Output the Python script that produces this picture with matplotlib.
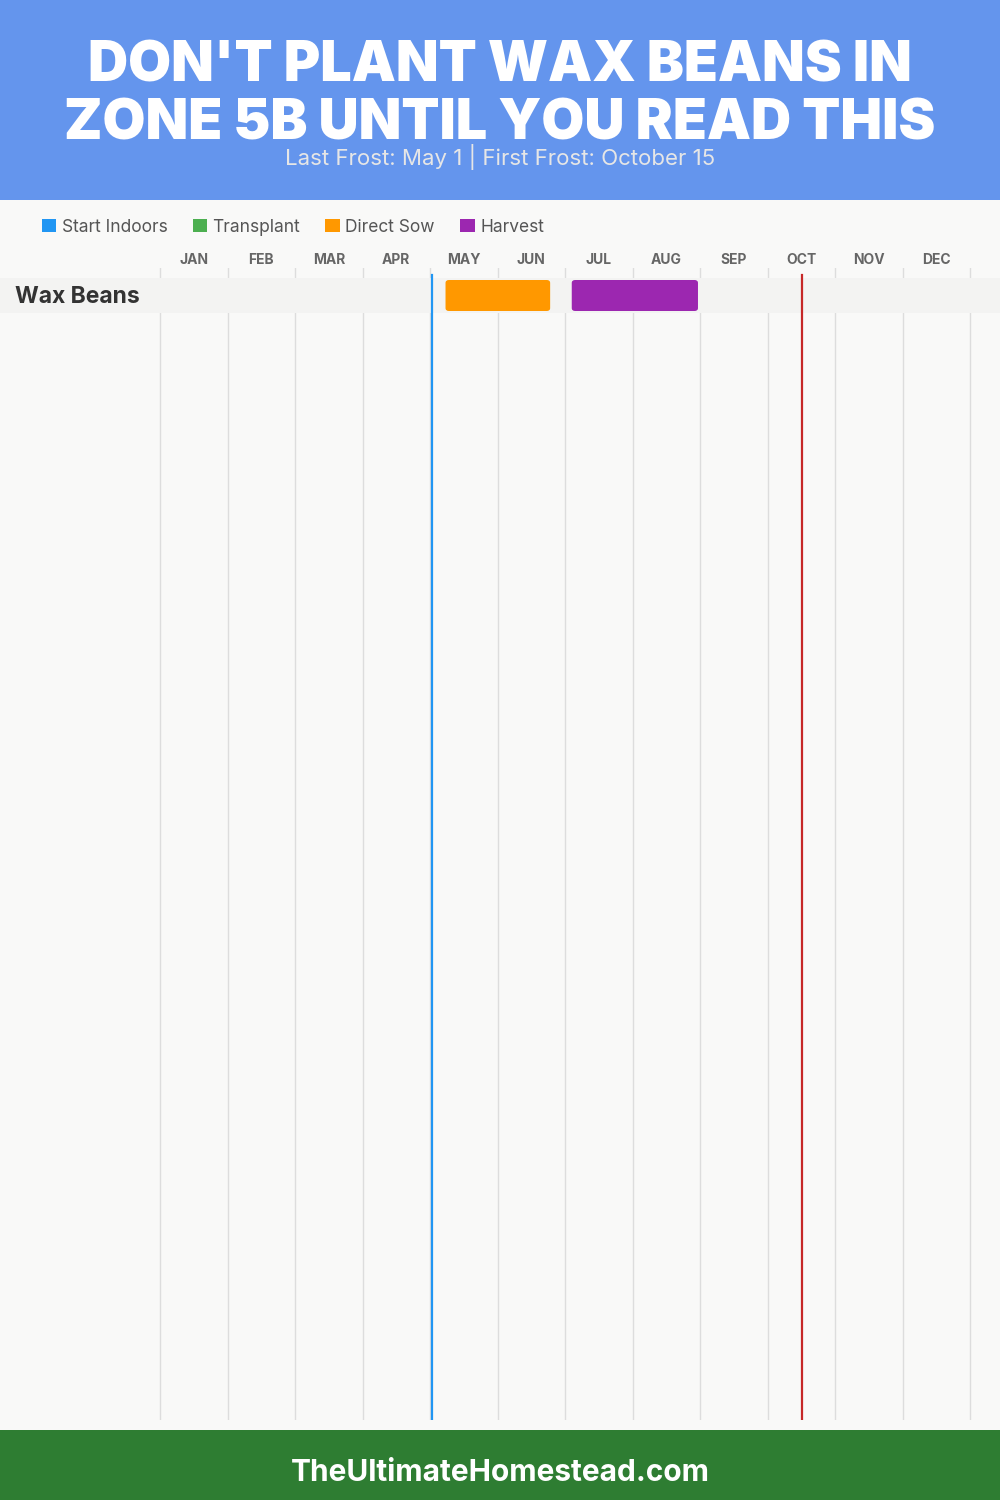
import matplotlib
matplotlib.use("Agg")
import matplotlib.pyplot as plt
from matplotlib.patches import Rectangle, FancyBboxPatch, Patch

# ---- data ----
title_lines = ["DON'T PLANT WAX BEANS IN", "ZONE 5B UNTIL YOU READ THIS"]
subtitle = "Last Frost: May 1 | First Frost: October 15"
footer = "TheUltimateHomestead.com"
months = ["JAN", "FEB", "MAR", "APR", "MAY", "JUN", "JUL", "AUG", "SEP", "OCT", "NOV", "DEC"]
crops = ["Wax Beans"]
legend_labels = ["Start Indoors", "Transplant", "Direct Sow", "Harvest"]
legend_colors = ["#2196F3", "#4CAF50", "#FF9800", "#9C27B0"]
# activity bars: (crop index, start month, end month, activity)
bar_crop = [0, 0]
bar_start = [4.23, 6.10]
bar_end = [5.78, 7.97]
bar_kind = ["Direct Sow", "Harvest"]
last_frost = 4.03   # May 1
first_frost = 9.51  # Oct 15

FONT = ["Inter", "DejaVu Sans"]
plt.rcParams["font.family"] = FONT

W, H = 1000, 1500
fig = plt.figure(figsize=(10, 15), dpi=100)
fig.patch.set_facecolor("#F9F9F8")

def fx(px):
    return px / W

def fy(py):
    return 1 - py / H

# header & footer bands
fig.add_artist(Rectangle((0, fy(200)), 1, 200 / H, transform=fig.transFigure,
                         facecolor="#6495ED", edgecolor="none", zorder=0))
fig.add_artist(Rectangle((0, 0), 1, 70 / H, transform=fig.transFigure,
                         facecolor="#2E7D32", edgecolor="none", zorder=0))

fig.text(0.5, fy(66), title_lines[0], ha="center", va="center", color="white",
         fontsize=40, fontweight=900)
fig.text(0.5, fy(125), title_lines[1], ha="center", va="center", color="white",
         fontsize=40, fontweight=900)
fig.text(0.5, fy(157), subtitle, ha="center", va="center", color="#E6E6E6",
         fontsize=16)
fig.text(0.5, fy(1473), footer, ha="center", va="center", color="white",
         fontsize=21.5, fontweight="bold")

# legend
handles = [Patch(facecolor=c, edgecolor="none", label=l)
           for c, l in zip(legend_colors, legend_labels)]
fig.legend(handles=handles, loc="center left", bbox_to_anchor=(fx(26), fy(227)),
           ncol=4, frameon=False, fontsize=12.5, handlelength=0.85, handleheight=0.85,
           handletextpad=0.3, columnspacing=1.45, labelcolor="#555555")

# main axes: x in months, y in rows
x0_px, month_px = 160, 67.5
top_px, bot_px, row_top_px, row_h = 268, 1420, 278, 35
ax = fig.add_axes([0, fy(bot_px), 1, (bot_px - top_px) / H])
ax.set_facecolor("none")
ax.set_xlim(-x0_px / month_px, (W - x0_px) / month_px)
y_top = -0.5 - (row_top_px - top_px) / row_h
y_bot = -0.5 + (bot_px - row_top_px) / row_h
ax.set_ylim(y_bot, y_top)
ax.axis("off")

for m in range(len(months) + 1):
    ax.axvline(m, color="#DDDDDD", lw=1, zorder=1)
for i, name in enumerate(months):
    fig.text(fx(x0_px + (i + 0.5) * month_px), fy(260), name, ha="center", va="center",
             color="#666666", fontsize=10, fontweight="bold")

for r, crop in enumerate(crops):
    ax.add_patch(Rectangle((ax.get_xlim()[0], r - 0.5), ax.get_xlim()[1] - ax.get_xlim()[0], 1,
                           facecolor="#F3F3F2", edgecolor="none", zorder=2))
    ax.text(15 / month_px + ax.get_xlim()[0], r + 0.03, crop, ha="left", va="center",
            color="#333333", fontsize=16.5, fontweight="bold", zorder=5)

color_of = dict(zip(legend_labels, legend_colors))
bh = 31 / 35
for c, s, e, k in zip(bar_crop, bar_start, bar_end, bar_kind):
    rs = 0.05
    ax.add_patch(FancyBboxPatch((s, c - bh / 2), e - s, bh,
                                boxstyle=f"round,pad=0,rounding_size={rs}",
                                mutation_aspect=1.7,
                                facecolor=color_of[k], edgecolor="none", zorder=3))

frost_top = -0.5 - 3 / row_h
ax.plot([last_frost, last_frost], [frost_top, y_bot], color="#2196F3", lw=1.6, zorder=4)
ax.plot([first_frost, first_frost], [frost_top, y_bot], color="#C62828", lw=1.6, zorder=4)

fig.savefig("out.png", dpi=100, facecolor=fig.get_facecolor())
